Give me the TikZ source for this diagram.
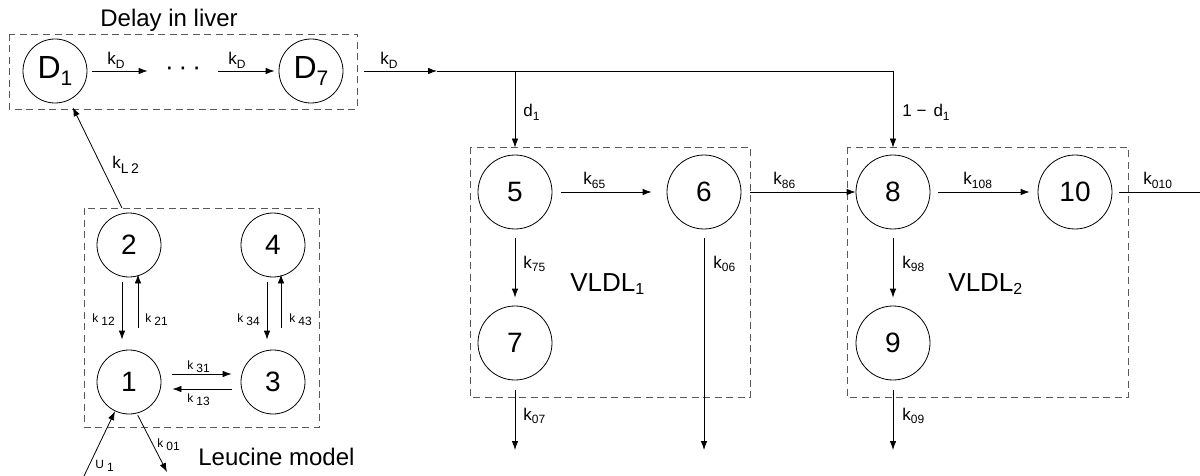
\documentclass[tikz,border=0pt]{standalone}
\usepackage{fontspec}
\setmainfont{Liberation Sans}
\usetikzlibrary{arrows.meta}
\newcommand{\lsub}[1]{\raisebox{-0.2em}{\fontsize{12}{12}\selectfont #1}}
\newcommand{\ksub}[1]{k\lsub{#1}}
\newcommand{\kleu}[1]{k\hspace{3pt}\raisebox{-3.5pt}{#1}}
\tikzset{
  pool/.style={circle, draw, line width=0.8pt, inner sep=0pt, minimum size=74pt,
    font=\fontsize{28}{28}\selectfont},
  spool/.style={pool, minimum size=64pt},
  grp/.style={draw=black!65, dash pattern=on 7pt off 4.5pt, line width=0.8pt},
  flow/.style={-{Latex[length=9pt,width=6.5pt]}},
  rate/.style={inner sep=0pt, anchor=base west, font=\fontsize{17}{17}\selectfont},
  srate/.style={rate, font=\fontsize{12}{12}\selectfont},
  grptitle/.style={inner sep=0pt, anchor=base west, font=\fontsize{24}{24}\selectfont}}

\begin{document}
\begin{tikzpicture}[x=1pt, y=-1pt, line width=0.8pt]
  \useasboundingbox (0,0) rectangle (1200,476);
  % delay in liver
  \node (dtitle) [grptitle] at (100,27) {Delay in liver};
  \draw [grp] (9,34) rectangle (357,109);
  \node (D1) [spool, font=\fontsize{32}{32}\selectfont] at (55,71)
    {D\raisebox{-0.22em}{\fontsize{21}{21}\selectfont 1}};
  \node (dots) [inner sep=0pt, font=\fontsize{26}{26}\selectfont] at (183,71)
    {\textperiodcentered\hspace{5pt}\textperiodcentered\hspace{5pt}\textperiodcentered};
  \node (D7) [spool, font=\fontsize{32}{32}\selectfont] at (311,71)
    {D\raisebox{-0.22em}{\fontsize{21}{21}\selectfont 7}};
  \draw [flow, shorten <=5pt, shorten >=17pt] (D1) -- (dots);
  \draw [flow, shorten <=17pt, shorten >=4pt] (dots) -- (D7);
  \node (kd1) [rate] at (107,65) {\ksub{D}};
  \node (kd2) [rate] at (228,65) {\ksub{D}};
  \node (kd3) [rate] at (380,65) {\ksub{D}};

  % VLDL1
  \node (n5) [pool] at (515,192) {5};
  \node (n6) [pool] at (704,192) {6};
  \node (n7) [pool] at (515,343) {7};
  \draw [grp] (470,147) rectangle (750,397);
  \node (vl1) [grptitle, font=\fontsize{26}{26}\selectfont] at (570,291)
    {VLDL\raisebox{-0.15em}{\fontsize{16}{16}\selectfont 1}};

  % VLDL2
  \node (n8) [pool] at (893,192) {8};
  \node (n10) [pool] at (1075,192) {10};
  \node (n9) [pool] at (893,343) {9};
  \draw [grp] (847,147) rectangle (1128,397);
  \node (vl2) [grptitle, font=\fontsize{26}{26}\selectfont] at (948,291)
    {VLDL\raisebox{-0.15em}{\fontsize{16}{16}\selectfont 2}};

  % split of the delay output
  \coordinate (kdmid) at (437,71);
  \coordinate (sp1) at (515,71);
  \coordinate (sp2) at (893,71);
  \draw [flow, shorten <=21pt] (D7) -- (kdmid);
  \draw (kdmid) -- (sp2);
  \draw [flow, shorten >=7pt] (sp1) -- (n5);
  \draw [flow, shorten >=7pt] (sp2) -- (n8);
  \node (ld1) [rate] at (523,117) {d\lsub{1}};
  \node (ld2) [rate] at (902,117) {1 −\hspace{7pt}d\lsub{1}};

  \coordinate (o6) at (704,450);
  \coordinate (o7) at (515,450);
  \coordinate (o9) at (893,450);
  \coordinate (o10) at (1200,192);
  \draw [flow, shorten <=9pt, shorten >=15pt] (n5) -- (n6);
  \draw [flow, shorten <=9pt, shorten >=8pt] (n5) -- (n7);
  \draw [flow, shorten <=9pt] (n6) -- (o6);
  \draw [flow, shorten <=10pt] (n7) -- (o7);
  \draw [flow, shorten <=9pt] (n6) -- (n8);
  \draw [flow, shorten <=8pt, shorten >=8pt] (n8) -- (n10);
  \draw [flow, shorten <=9pt, shorten >=8pt] (n8) -- (n9);
  \draw [flow, shorten <=10pt] (n9) -- (o9);
  \draw [shorten <=7pt] (n10) -- (o10);
  \node (k65) [rate] at (583,185) {\ksub{65}};
  \node (k86) [rate] at (773,185) {\ksub{86}};
  \node (k108) [rate] at (963,185) {\ksub{108}};
  \node (k010) [rate] at (1143,185) {\ksub{010}};
  \node (k75) [rate] at (523,268) {\ksub{75}};
  \node (k06) [rate] at (713,268) {\ksub{06}};
  \node (k98) [rate] at (902,268) {\ksub{98}};
  \node (k07) [rate] at (523,420) {\ksub{07}};
  \node (k09) [rate] at (902,420) {\ksub{09}};

  % leucine model
  \node (n2) [spool] at (129,245) {2};
  \node (n4) [spool] at (273,245) {4};
  \node (n1) [spool] at (129,382) {1};
  \node (n3) [spool] at (273,382) {3};
  \draw [grp] (84,208) rectangle (319,427);
  \node (ltitle) [grptitle] at (198,465) {Leucine model};
  \draw [flow] ([xshift=-7pt, yshift=-5pt]n2.south) -- ([xshift=-7pt, yshift=10pt]n1.north);
  \draw [flow] ([xshift=9pt, yshift=22pt]n1.north) -- ([xshift=9pt, yshift=3pt]n2.south);
  \draw [flow] ([xshift=-6pt, yshift=-5pt]n4.south) -- ([xshift=-6pt, yshift=10pt]n3.north);
  \draw [flow] ([xshift=8pt, yshift=22pt]n3.north) -- ([xshift=8pt, yshift=3pt]n4.south);
  \draw [flow, shorten <=11pt, shorten >=9pt] ([yshift=8pt]n1.east) -- ([yshift=8pt]n3.west);
  \draw [flow, shorten <=9pt, shorten >=11pt] ([yshift=-7pt]n3.west) -- ([yshift=-7pt]n1.east);
  \node (k12) [srate] at (92,322) {\kleu{12}};
  \node (k21) [srate] at (145,322) {\kleu{21}};
  \node (k34) [srate] at (237,322) {\kleu{34}};
  \node (k43) [srate] at (289,322) {\kleu{43}};
  \node (k31) [srate] at (187,369) {\kleu{31}};
  \node (k13) [srate] at (187,402) {\kleu{13}};

  % in and out of pool 1, and on to the liver
  \coordinate (u1) at (84,476);
  \coordinate (k01e) at (167,472);
  \coordinate (lbtop) at (122,208);
  \draw [flow] (u1) -- (n1);
  \draw [flow, shorten <=2pt] (n1.-76) -- (k01e);
  \draw [flow, shorten >=8pt] (lbtop) -- (D1);
  \node (u1t) [srate] at (95,468) {U\hspace{3pt}\raisebox{-3.5pt}{1}};
  \node (k01) [srate] at (157,447) {\kleu{01}};
  \node (kl2) [rate] at (112,169) {k\raisebox{-0.25em}{\fontsize{14}{14}\selectfont L\,2}};
\end{tikzpicture}
\end{document}
